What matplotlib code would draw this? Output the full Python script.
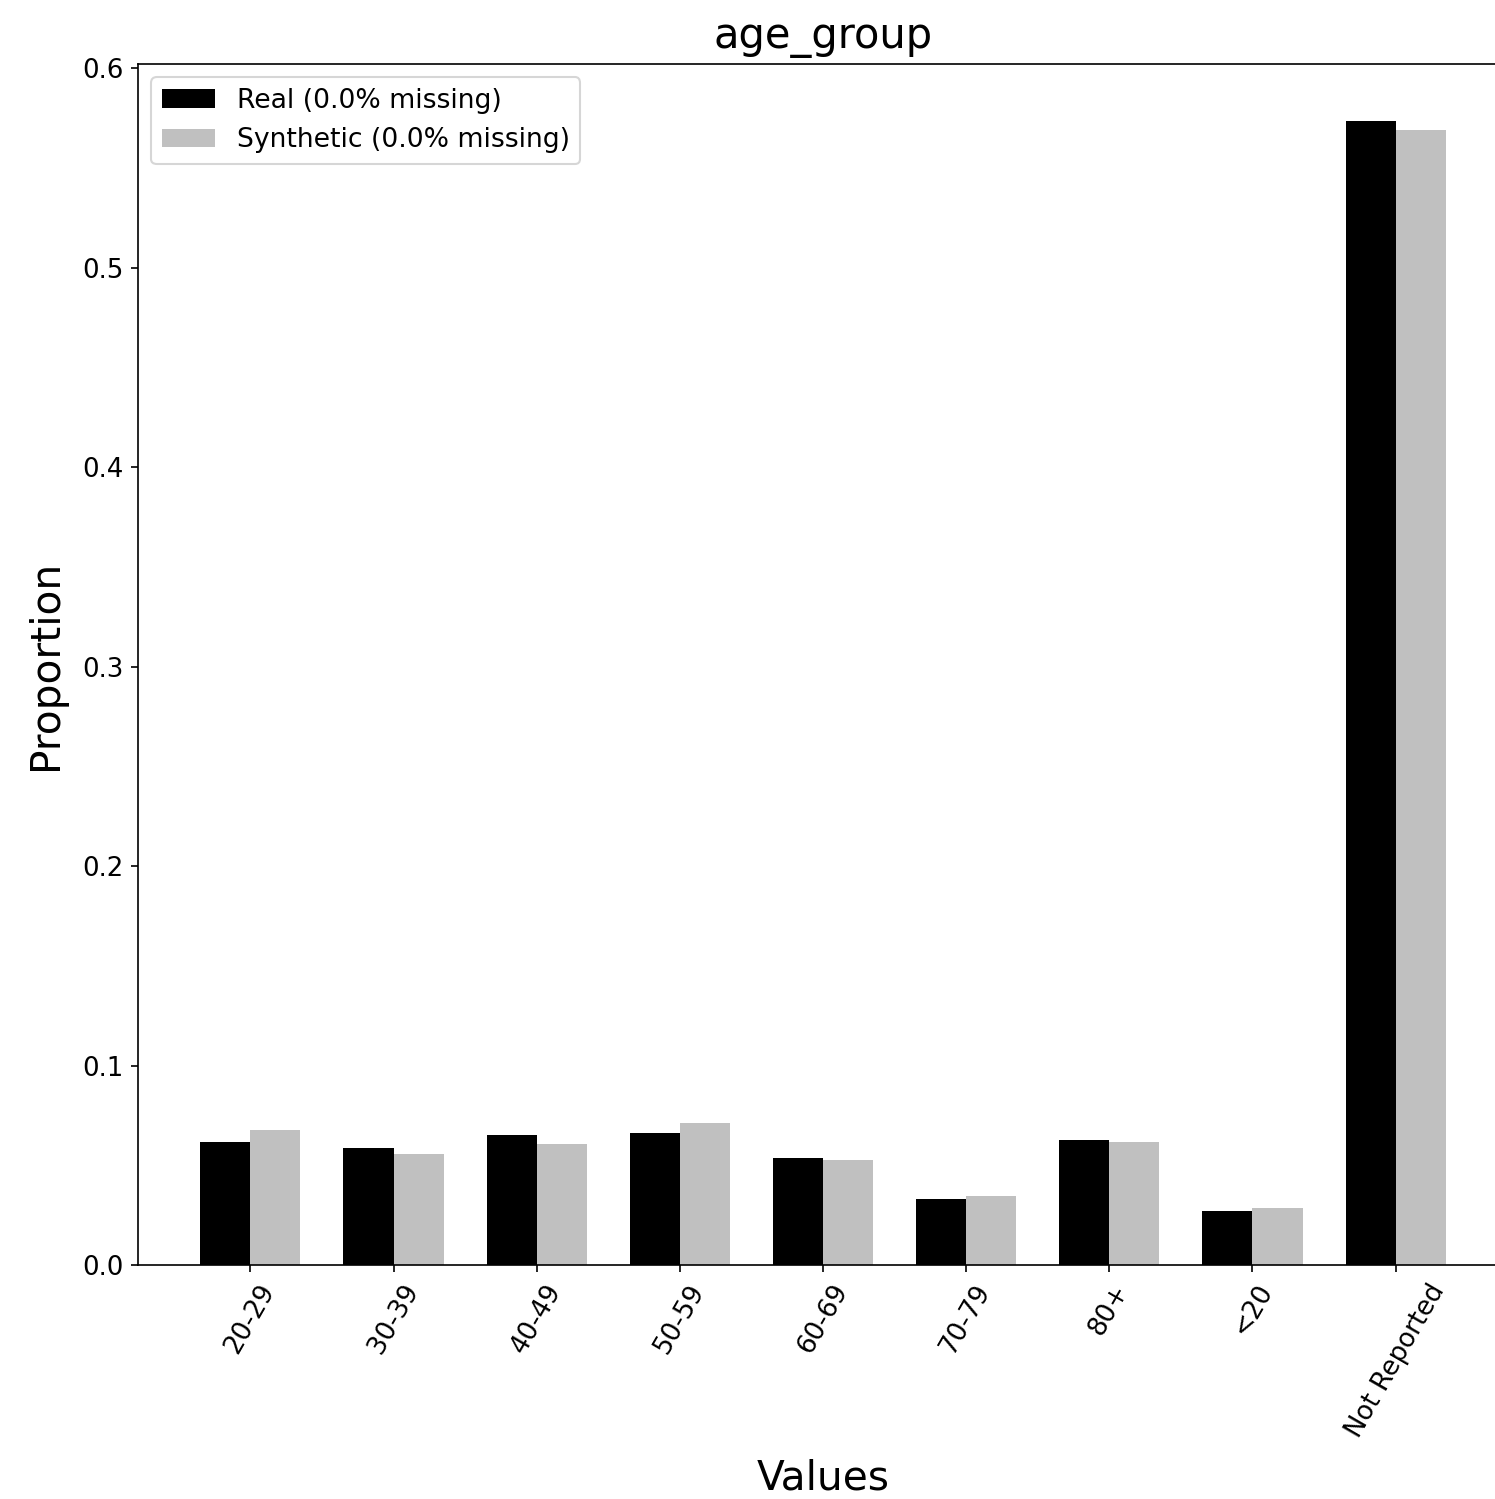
import matplotlib
matplotlib.use("Agg")
import matplotlib.pyplot as plt
import numpy as np

# Proportions per age group
categories = ["20-29", "30-39", "40-49", "50-59", "60-69", "70-79", "80+", "<20", "Not Reported"]
real = [0.0617, 0.0587, 0.0652, 0.0663, 0.0537, 0.0331, 0.0627, 0.0271, 0.5735]
synthetic = [0.0677, 0.0557, 0.0607, 0.0713, 0.0527, 0.0346, 0.0617, 0.0286, 0.5690]
real_missing = 0.0
synth_missing = 0.0

fig = plt.figure(figsize=(1495 / 150, 1499 / 150), dpi=150)
# axes runs slightly past the right edge, as in the original
ax = fig.add_axes([138 / 1495, 234 / 1499, (1508 - 138) / 1495, (1435 - 234) / 1499])

x = np.arange(len(categories))
width = 0.35
ax.bar(x - width / 2, real, width, color="black", label=f"Real ({real_missing:.1f}% missing)")
ax.bar(x + width / 2, synthetic, width, color="silver", label=f"Synthetic ({synth_missing:.1f}% missing)")

ax.set_xticks(x)
ax.set_xticklabels(categories, rotation=60, fontsize=12.5)
ax.tick_params(axis="y", labelsize=12.5)
ax.set_title("age_group", fontsize=20, pad=7.5)
ax.set_xlabel("Values", fontsize=19.5, labelpad=8)
ax.set_ylabel("Proportion", fontsize=19.5, labelpad=7.5)
ax.legend(loc="upper left", fontsize=12.8)

plt.savefig("out.png", dpi=150)
